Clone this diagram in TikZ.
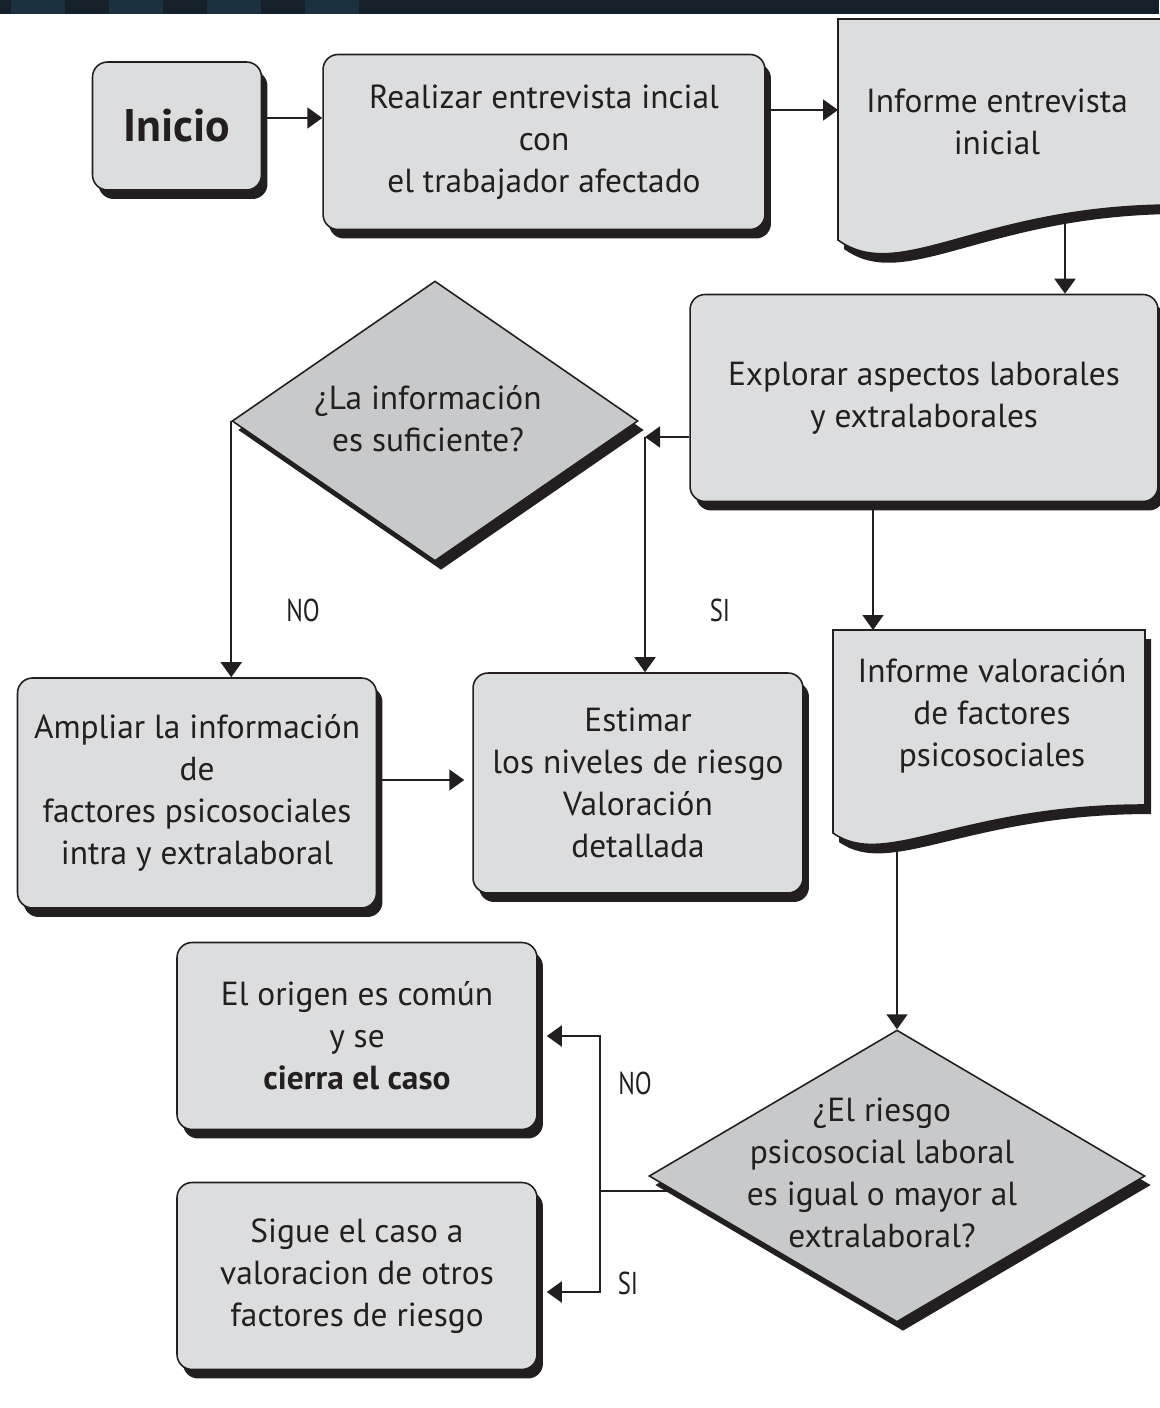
\documentclass[tikz,border=0pt]{standalone}
\usepackage{fontspec}
\setmainfont{PT Sans}
\newfontfamily\narrowsf[FakeStretch=0.78]{PT Sans}
\usetikzlibrary{shapes.geometric,shadows,arrows.meta,calc}
\definecolor{boxgray}{HTML}{DCDDDF}
\definecolor{diagray}{HTML}{C8C9CB}
\definecolor{bandblue}{HTML}{16202A}
\definecolor{tileblue}{HTML}{1B3140}
\definecolor{ink}{HTML}{231F20}
\tikzset{
  >={Triangle[length=0.3cm,width=0.42cm]},
  flow/.style={line width=1.1pt, draw=ink},
  dropped/.style={drop shadow={shadow xshift=0.12cm, shadow yshift=-0.18cm, fill=ink, opacity=1}},
  stepbox/.style={draw=ink, line width=0.9pt, fill=boxgray, rounded corners=0.3cm, dropped,
    align=center, text=ink, font=\fontsize{19}{23.9}\selectfont},
  startbox/.style={stepbox, font=\bfseries\fontsize{26}{30}\selectfont},
  docshape/.style={draw=ink, line width=0.9pt, fill=boxgray, dropped},
  doctext/.style={align=center, text=ink, font=\fontsize{19}{23.9}\selectfont},
  decision/.style={diamond, draw=ink, line width=0.9pt, fill=diagray, dropped, inner sep=0pt},
  branch/.style={text=ink, font=\narrowsf\fontsize{18}{20}\selectfont}
}
\begin{document}
\begin{tikzpicture}[x=0.02cm, y=-0.02cm]
\useasboundingbox (0,0) rectangle (1159,1408);

\fill[bandblue] (0,0) rectangle (1159,14);
\foreach \t in {11,109,207,305}
	\fill[tileblue] (\t,0) rectangle (\t+54,14);

% documentos
\draw[docshape] (838,19) -- (1175,19) -- (1175,205) .. controls (980,205) and (900,285) .. (838,240) -- cycle;
\draw[docshape] (833,630) -- (1145,630) -- (1145,805) .. controls (960,805) and (885,870) .. (833,833) -- cycle;

\node[startbox, minimum width=3.38cm, minimum height=2.56cm] (inicio) at (177,126) {Inicio};
\node[stepbox, minimum width=8.84cm, minimum height=3.5cm] (entrevista) at (544,142) {Realizar entrevista incial\\con\\el trabajador afectado};
\node[doctext] (informeA) at (997,122) {Informe entrevista\\inicial};
\node[stepbox, minimum width=9.36cm, minimum height=4.14cm] (explorar) at (924,398) {Explorar aspectos laborales\\y extralaborales};
\node[decision, minimum width=8.12cm, minimum height=5.6cm] (decisionA) at (435,421) {};
\node[doctext] (preguntaA) at (428,419) {¿La información\\es suficiente?};
\node[stepbox, minimum width=7.18cm, minimum height=4.6cm] (ampliar) at (197,793) {Ampliar la información\\de\\factores psicosociales\\intra y extralaboral};
\node[stepbox, minimum width=6.6cm, minimum height=4.4cm] (estimar) at (638,783) {Estimar\\los niveles de riesgo\\Valoración\\detallada};
\node[doctext] (informeB) at (992,716) {Informe valoración\\de factores\\psicosociales};
\node[decision, minimum width=9.92cm, minimum height=5.84cm] (decisionB) at (897,1176) {};
\node[doctext] (preguntaB) at (882,1173) {¿El riesgo\\psicosocial laboral\\es igual o mayor al\\extralaboral?};
\node[stepbox, minimum width=7.2cm, minimum height=3.74cm] (cierre) at (357,1036) {El origen es común\\y se\\\textbf{cierra el caso}};
\node[stepbox, minimum width=7.2cm, minimum height=3.74cm] (sigue) at (357,1276) {Sigue el caso a\\valoracion de otros\\factores de riesgo};

\coordinate (informeA-in) at (838,110);
\coordinate (informeA-out) at (1065,214);
\coordinate (informeB-in) at (873,630);
\coordinate (informeB-out) at (897,842);
\coordinate (cruceA) at (645,437);
\path ($(decisionB.west)!0.1!(decisionB.south)$) coordinate (salidaB);
\coordinate (cruceB) at (salidaB -| 600,0);

\draw[flow, ->] (inicio.east |- 0,118) -- (entrevista.west |- 0,118);
\draw[flow, ->] (entrevista.east |- informeA-in) -- (informeA-in);
\draw[flow, ->] (informeA-out) -- (explorar.north -| informeA-out);
\draw[flow, ->] (explorar.west |- cruceA) -- (cruceA);
\draw[flow, ->] (cruceA) -- (estimar.north -| cruceA);
\draw[flow, ->] (decisionA.west) -- (ampliar.north -| decisionA.west);
\draw[flow, ->, shorten >=0.16cm] (ampliar.east |- 0,780) -- (estimar.west |- 0,780);
\draw[flow, ->] (explorar.south -| informeB-in) -- (informeB-in);
\draw[flow, ->] (informeB-out) -- (decisionB.north);
\draw[flow] (salidaB) -- (cruceB);
\draw[flow, ->, shorten >=0.18cm] (cruceB) |- (cierre.east);
\draw[flow, ->, shorten >=0.18cm] (cruceB) |- (sigue.east |- 0,1292);

\node[branch] (noA) at (303,610) {NO};
\node[branch] (siA) at (720,610) {SI};
\node[branch] (noB) at (635,1083) {NO};
\node[branch] (siB) at (628,1283) {SI};
\end{tikzpicture}
\end{document}
